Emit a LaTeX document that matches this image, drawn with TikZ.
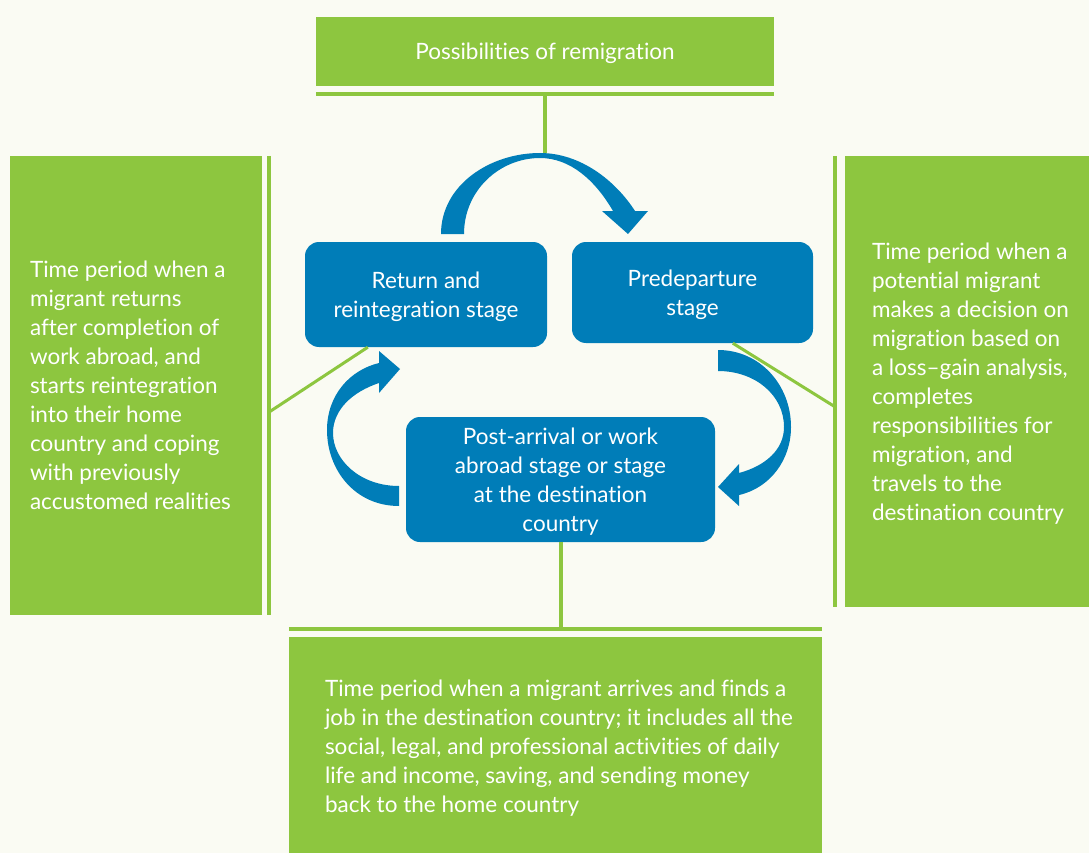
\documentclass[tikz,border=0pt]{standalone}
\usepackage{fontspec}
\setmainfont{Lato}[Ligatures={TeX,NoCommon}]
\usetikzlibrary{positioning,calc}

\definecolor{leaf}{HTML}{8DC63F}
\definecolor{sea}{HTML}{007DB8}
\definecolor{paper}{HTML}{FAFBF3}

\begin{document}
\begin{tikzpicture}[x=1pt,y=-1pt,
		% Define styles for boxes and lines
		every node/.style={font=\fontsize{22.5}{29}\selectfont, text=white},
		greenbox/.style={fill=leaf, inner sep=0pt},
		stagebox/.style={fill=sea, rounded corners=14pt, align=center, inner sep=0pt, text depth=0pt},
		note/.style={anchor=west, align=left, inner sep=0pt},
		bar/.style={draw=leaf, line width=4pt},
		link/.style={draw=leaf, line width=3pt},
		turn/.style={fill=sea}
	]

	% Page
	\useasboundingbox (0,0) rectangle (1089,853);
	\fill[paper] (0,0) rectangle (1089,853);

	% Green boxes
	\node[greenbox, minimum width=458, minimum height=69, text depth=0pt] (remig) at (545,51.5) {Possibilities of remigration};
	\node[greenbox, minimum width=252, minimum height=459] (leftbox) at (136,385.5) {};
	\node[greenbox, minimum width=255, minimum height=451] (rightbox) at (972.5,381.5) {};
	\node[greenbox, minimum width=533, minimum height=223] (botbox) at (555.5,748.5) {};

	% Texts in the green boxes
	\node[note] (lefttext) at ([xshift=20]leftbox.west) {Time period when a\\
		migrant returns\\
		after completion of\\
		work abroad, and\\
		starts reintegration\\
		into their home\\
		country and coping\\
		with previously\\
		accustomed realities};
	\node[note] (righttext) at ([xshift=27,yshift=-2.5]rightbox.west) {Time period when a\\
		potential migrant\\
		makes a decision on\\
		migration based on\\
		a loss--gain analysis,\\
		completes\\
		responsibilities for\\
		migration, and\\
		travels to the\\
		destination country};
	\node[note] (bottext) at ([xshift=36]botbox.west) {Time period when a migrant arrives and finds a\\
		job in the destination country; it includes all the\\
		social, legal, and professional activities of daily\\
		life and income, saving, and sending money\\
		back to the home country};

	% Stages
	\node[stagebox, minimum width=242, minimum height=105] (ret) at (426,294.5) {Return and\\reintegration stage};
	\node[stagebox, minimum width=241, minimum height=101] (pred) at (692.5,292.5) {Predeparture\\stage};
	\node[stagebox, minimum width=309, minimum height=125] (post) at (560.5,479.5) {Post-arrival or work\\abroad stage or stage\\at the destination\\country};

	% Blue turning arrows
	\coordinate (arctop) at (540,153);
	\fill[turn] (441,234) .. controls (441,185) and (490,153) .. (arctop)
		.. controls (580,153) and (615,180) .. (635,211)
		-- (648,211) -- (628,234) -- (602,211) -- (613,211)
		.. controls (595,180) and (570,158) .. (540,158)
		.. controls (500,158) and (464,190) .. (464,234) -- cycle;
	\fill[turn] (718,350) .. controls (760,350) and (791,385) .. (791,427)
		.. controls (791,460) and (770,488) .. (739,495)
		-- (739,506) -- (718,487) -- (739,464) -- (739,473)
		.. controls (765,466) and (784,450) .. (784,427)
		.. controls (784,395) and (755,371) .. (718,371) -- cycle;
	\fill[turn] (399,506) .. controls (355,506) and (327,470) .. (327,430)
		.. controls (327,395) and (350,370) .. (379,363)
		-- (379,351) -- (400,369) -- (379,393) -- (379,383)
		.. controls (352,392) and (333,410) .. (333,433)
		.. controls (333,460) and (360,486) .. (399,486) -- cycle;

	% Green bars and links
	\draw[bar] ([yshift=-8]remig.south west) coordinate (tbl) -- ([yshift=-8]remig.south east) coordinate (tbr);
	\coordinate (tbm) at ($(tbl)!0.5!(tbr)$);
	\draw[bar] (tbm) -- (tbm |- arctop);

	\draw[bar] ([xshift=7]leftbox.north east) coordinate (lbar) -- ([xshift=7]leftbox.south east);
	\draw[link] (lbar |- 0,412) -- ($(ret.south west)+(63,0)$);

	\draw[bar] ([xshift=-9.5]rightbox.north west) coordinate (rbar) -- ([xshift=-9.5]rightbox.south west);
	\draw[link] ($(pred.south west)+(161,0)$) -- (rbar |- 0,407);

	\draw[bar] ([yshift=8]botbox.north west) coordinate (bbar) -- ([yshift=8]botbox.north east);
	\draw[bar] (post.south) -- (post.south |- bbar);
\end{tikzpicture}
\end{document}
